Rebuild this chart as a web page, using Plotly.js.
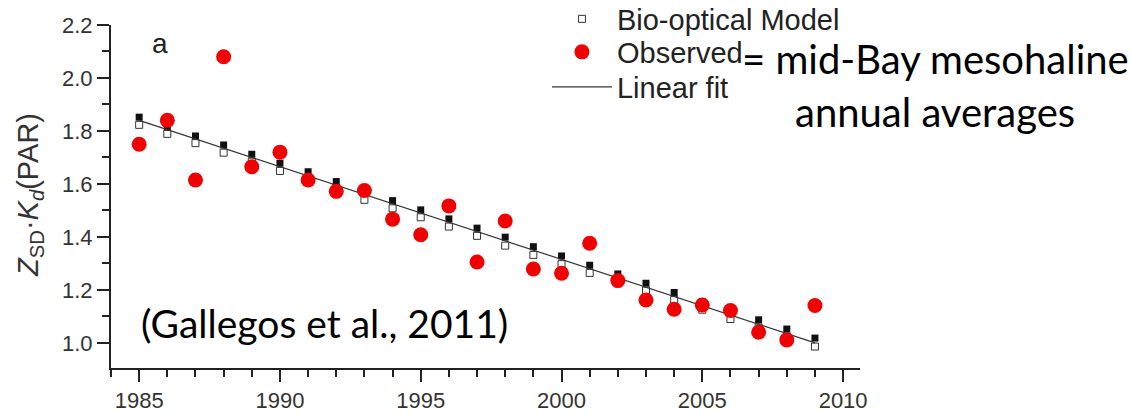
<!DOCTYPE html>
<html>
<head>
<meta charset="utf-8">
<script src="https://cdn.plot.ly/plotly-3.0.1.min.js"></script>
<style>html,body{margin:0;padding:0;background:#fff;}#chart{width:1131px;height:414px;}</style>
</head>
<body>
<div id="chart"></div>
<script>
// ---- data ----
const years = [1985,1986,1987,1988,1989,1990,1991,1992,1993,1994,1995,1996,1997,1998,1999,2000,2001,2002,2003,2004,2005,2006,2007,2008,2009];
const observed = [1.75,1.84,1.615,2.08,1.665,1.72,1.615,1.572,1.575,1.467,1.408,1.517,1.305,1.46,1.279,1.263,1.376,1.235,1.162,1.127,1.143,1.122,1.04,1.011,1.141];
const modelOpen = [1.823,1.789,1.754,1.718,1.684,1.649,1.62,1.585,1.54,1.508,1.474,1.439,1.404,1.367,1.332,1.297,1.264,1.23,1.197,1.162,1.125,1.09,1.058,1.024,0.986];
const modelFilled = [1.852,1.814,1.781,1.747,1.712,1.678,1.646,1.609,1.575,1.537,1.502,1.468,1.433,1.399,1.363,1.328,1.293,1.26,1.225,1.19,1.155,1.12,1.087,1.052,1.018];
const fitYears = [1985, 2009];
const fitValues = [1.840, 1.000];
const xTickVals = [1985,1990,1995,2000,2005,2010];
const yTickVals = [1.0,1.2,1.4,1.6,1.8,2.0,2.2];

const ARIAL = '"Liberation Sans", Arial, sans-serif';
const CALIBRI = 'Lato, "Open Sans", sans-serif';

const traces = [
  {x: years, y: modelFilled, type:'scatter', mode:'markers', name:'Bio-optical Model (filled)', showlegend:false,
   marker:{symbol:'square', size:7, color:'#111', line:{width:0}}},
  {x: years, y: modelOpen, type:'scatter', mode:'markers', name:'Bio-optical Model', legend:'legend',
   marker:{symbol:'square-open', size:7, color:'#333', line:{width:1}}},
  {x: fitYears, y: fitValues, type:'scatter', mode:'lines', name:'Linear fit', legend:'legend3',
   line:{color:'#333', width:1.2}},
  {x: years, y: observed, type:'scatter', mode:'markers', name:'Observed', legend:'legend2',
   marker:{symbol:'circle', size:15, color:'#f00000', line:{width:0}}}
];

const legendBase = {xref:'container', yref:'container', xanchor:'left', yanchor:'middle', x:0.4836,
  bgcolor:'rgba(0,0,0,0)', borderwidth:0, itemwidth:60, font:{family:ARIAL, size:29, color:'#222'}};

// pixel -> paper helpers for annotation placement
const PL = 111, PW = 749, PB = 368, PH = 343;
const px = v => (v - PL) / PW;
const py = v => (PB - v) / PH;

const layout = {
  width:1131, height:414,
  margin:{l:111, r:271, t:25, b:46, autoexpand:false},
  paper_bgcolor:'#fff', plot_bgcolor:'#fff',
  showlegend:true,
  legend: Object.assign({}, legendBase, {y:1-19/414}),
  legend2: Object.assign({}, legendBase, {y:1-52/414}),
  legend3: Object.assign({}, legendBase, {y:1-87/414}),
  xaxis:{range:[1984, 2010.6], tickvals:xTickVals, ticks:'outside', ticklen:12, tickwidth:2, tickcolor:'#222',
    showline:true, linewidth:2, linecolor:'#222', showgrid:false, zeroline:false,
    tickfont:{family:ARIAL, size:22, color:'#333'},
    minor:{dtick:1, tick0:1984, ticks:'outside', ticklen:7, tickwidth:2, tickcolor:'#222', showgrid:false}},
  yaxis:{range:[0.905, 2.2], tickvals:yTickVals, tickformat:'.1f', ticks:'outside', ticklen:12, tickwidth:2, tickcolor:'#222',
    showline:true, linewidth:2, linecolor:'#222', showgrid:false, zeroline:false,
    tickfont:{family:ARIAL, size:22, color:'#333'},
    minor:{dtick:0.1, tick0:0.9, ticks:'outside', ticklen:7, tickwidth:2, tickcolor:'#222', showgrid:false}},
  annotations:[
    {text:'<i>Z</i><sub>SD</sub>·<i>K</i><sub><i>d</i></sub>(PAR)', xref:'paper', yref:'paper', x:px(30), y:py(195),
     xanchor:'center', yanchor:'middle', textangle:-90, showarrow:false,
     font:{family:ARIAL, size:29, color:'#333'}},
    {text:'a', xref:'paper', yref:'paper', x:px(150), y:py(44), xanchor:'left', yanchor:'middle', showarrow:false,
     font:{family:ARIAL, size:28, color:'#222'}},
    {text:'= mid-Bay mesohaline', xref:'paper', yref:'paper', x:px(740), y:py(59), xanchor:'left', yanchor:'middle', showarrow:false,
     font:{family:CALIBRI, size:40, color:'#000'}},
    {text:'annual averages', xref:'paper', yref:'paper', x:px(935), y:py(112), xanchor:'center', yanchor:'middle', showarrow:false,
     font:{family:CALIBRI, size:40, color:'#000'}},
    {text:'(Gallegos et al., 2011)', xref:'paper', yref:'paper', x:px(139), y:py(323), xanchor:'left', yanchor:'middle', showarrow:false,
     font:{family:CALIBRI, size:39, color:'#000'}}
  ]
};

Plotly.newPlot('chart', traces, layout, {displayModeBar:false, staticPlot:true});
</script>
</body>
</html>
